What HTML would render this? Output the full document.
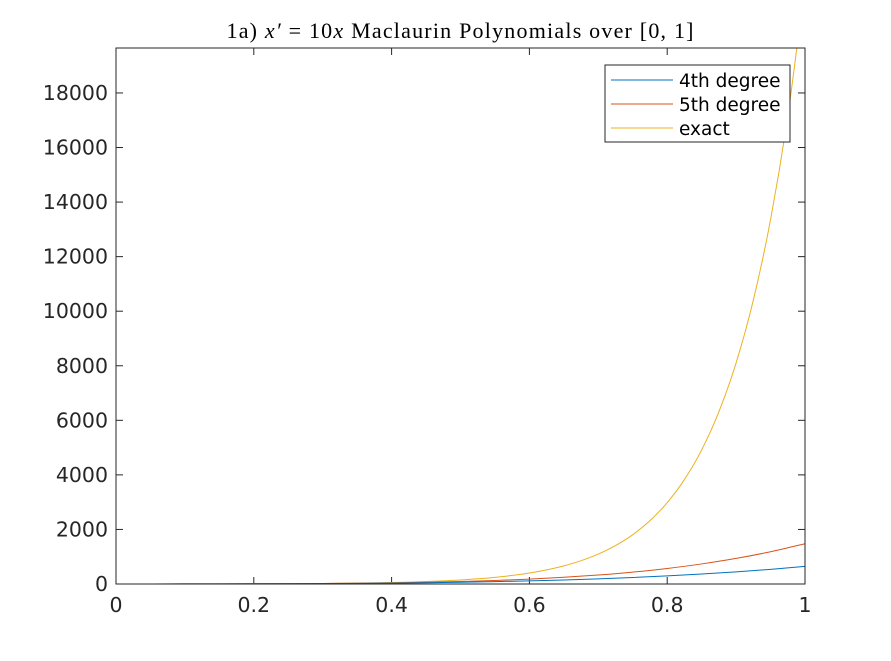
<!DOCTYPE html>
<html><head><meta charset="utf-8"><style>
body{margin:0;background:#fff;}
svg text{font-family:"DejaVu Sans","Liberation Sans",sans-serif;}
</style></head><body>
<svg id="chart" width="891" height="656" xmlns="http://www.w3.org/2000/svg">
<defs><clipPath id="clip"><rect x="116" y="48" width="689" height="536"/></clipPath></defs>
<rect width="891" height="656" fill="#fff"/>
<text x="460" y="38" text-anchor="middle" font-size="22" textLength="467" lengthAdjust="spacing" style="font-family:'Liberation Serif',serif">1a) <tspan font-style="italic">x′</tspan> = 10<tspan font-style="italic">x</tspan> Maclaurin Polynomials over [0, 1]</text>
<g id="ticks"></g>
<g id="series" clip-path="url(#clip)"></g>
<rect x="116" y="48" width="689" height="536" fill="none" stroke="#262626" stroke-width="1"/>
<g>
<rect x="605" y="65" width="185" height="77" fill="#fff" stroke="#262626" stroke-width="1"/>
<line x1="611" y1="80" x2="673" y2="80" stroke="#0072BD"/>
<text x="679" y="87" font-size="18.5" fill="#000">4th degree</text>
<line x1="611" y1="104" x2="673" y2="104" stroke="#D95319"/>
<text x="679" y="111" font-size="18.5" fill="#000">5th degree</text>
<line x1="611" y1="128" x2="673" y2="128" stroke="#EDB120"/>
<text x="679" y="135" font-size="18.5" fill="#000">exact</text>
</g>
</svg>
<script>
const xTicks=[0,0.2,0.4,0.6,0.8,1];
const xTickLabels=["0","0.2","0.4","0.6","0.8","1"];
const yTicks=[0,2000,4000,6000,8000,10000,12000,14000,16000,18000];
const yTickLabels=["0","2000","4000","6000","8000","10000","12000","14000","16000","18000"];
const polyX=[0,0.05,0.1,0.15,0.2,0.25,0.3,0.35,0.4,0.45,0.5,0.55,0.6,0.65,0.7,0.75,0.8,0.85,0.9,0.95,1];
const deg4=[1,1.65,2.71,4.40,7.0,10.86,16.38,24.02,34.33,47.9,65.4,87.5,115,148.8,189.7,238.8,297,365.5,445.4,537.9,644.3];
const deg5=[1,1.65,2.72,4.46,7.27,11.67,18.4,28.4,42.9,63.3,91.5,129.4,179.8,245.5,329.8,436.6,570.1,735.3,937.5,1182.7,1477.7];
const exactX=[0,0.025,0.05,0.075,0.1,0.125,0.15,0.175,0.2,0.225,0.25,0.275,0.3,0.325,0.35,0.375,0.4,0.425,0.45,0.475,0.5,0.525,0.55,0.575,0.6,0.625,0.65,0.675,0.7,0.725,0.75,0.775,0.8,0.825,0.85,0.875,0.9,0.925,0.95,0.975,1];
const exact=[1,1.284,1.649,2.117,2.718,3.49,4.482,5.755,7.389,9.488,12.18,15.64,20.09,25.79,33.12,42.52,54.6,70.11,90.02,115.6,148.4,190.6,244.7,314.2,403.4,518,665.1,854.1,1096.6,1408.1,1808,2321.6,2981,3827.6,4914.8,6310.7,8103.1,10404.6,13359.7,17154.2,22026.5];
const X0=116,X1=805,Y0=584,YMAX=19648,YT=48;
const sx=v=>X0+v*(X1-X0);
const sy=v=>Y0-v/YMAX*(Y0-YT);
const NS="http://www.w3.org/2000/svg";
const tg=document.getElementById('ticks');
function mk(tag,attrs,parent){const e=document.createElementNS(NS,tag);for(const k in attrs)e.setAttribute(k,attrs[k]);parent.appendChild(e);return e;}
xTicks.forEach((v,i)=>{const x=sx(v);
 const a=mk('line',{x1:x,y1:Y0,x2:x,y2:Y0-7,stroke:'#262626'},tg);
 
 
 mk('line',{x1:x,y1:YT,x2:x,y2:YT+7,stroke:'#262626'},tg);
 const t=mk('text',{x:x,y:Y0+28,'text-anchor':'middle','font-size':20.5,fill:'#262626'},tg);t.textContent=xTickLabels[i];
 
 
});
yTicks.forEach((v,i)=>{const y=sy(v);
 const a=mk('line',{x1:X0,y1:y,x2:X0+7,y2:y,stroke:'#262626'},tg);
 
 
 mk('line',{x1:X1,y1:y,x2:X1-7,y2:y,stroke:'#262626'},tg);
 const t=mk('text',{x:X0-8,y:y+7,'text-anchor':'end','font-size':20.5,fill:'#262626'},tg);t.textContent=yTickLabels[i];
 
 
});
const sg=document.getElementById('series');
function line(xs,ys,color,name){
 const P=xs.map((x,i)=>[sx(x),sy(ys[i])]);
 let d='M'+P[0][0]+','+P[0][1];
 for(let i=0;i<P.length-1;i++){
  const p0=P[Math.max(i-1,0)],p1=P[i],p2=P[i+1],p3=P[Math.min(i+2,P.length-1)];
  const c1=[p1[0]+(p2[0]-p0[0])/6,p1[1]+(p2[1]-p0[1])/6];
  const c2=[p2[0]-(p3[0]-p1[0])/6,p2[1]-(p3[1]-p1[1])/6];
  d+=' C'+c1[0]+','+c1[1]+' '+c2[0]+','+c2[1]+' '+p2[0]+','+p2[1];
 }
 const p=mk('path',{d:d,fill:'none',stroke:color,'stroke-width':1},sg);
 
 }
line(exactX,exact,'#EDB120','exact-line');
line(polyX,deg5,'#D95319','5th-degree-line');
line(polyX,deg4,'#0072BD','4th-degree-line');
</script>
</body></html>
